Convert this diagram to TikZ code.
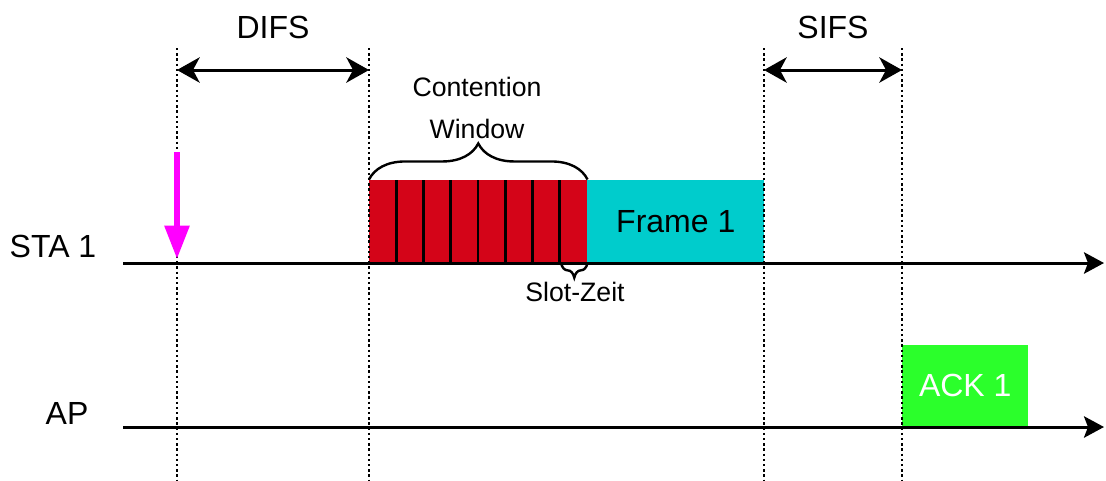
\documentclass[tikz,border=0pt]{standalone}
\usepackage{fontspec}
\usepackage{xcolor}
\setmainfont{Liberation Sans}
\usetikzlibrary{arrows.meta,decorations.pathreplacing,positioning}

\definecolor{slotred}{RGB}{212,4,24}
\definecolor{framecyan}{RGB}{0,204,204}
\definecolor{ackgreen}{RGB}{43,255,43}
\definecolor{eventpink}{RGB}{255,0,255}

\tikzset{
	big/.style={inner sep=0pt,font=\fontsize{24}{28}\selectfont},
	small/.style={inner sep=0pt,font=\fontsize{20}{31}\selectfont},
	block/.style={inner sep=0pt,anchor=south west,big},
	timeline/.style={line width=2.25pt,-{Stealth[length=15pt,width=16pt,inset=3pt]}},
	span/.style={line width=2.25pt,{Stealth[length=17pt,width=19pt,inset=5pt]}-{Stealth[length=17pt,width=19pt,inset=5pt]}},
	guide/.style={line width=2pt,dash pattern=on 1.8pt off 2.1pt},
	curly/.style={line width=1.8pt,decorate,decoration={brace,#1}}
}

\begin{document}
\begin{tikzpicture}[x=0.75pt,y=-0.75pt]
			\useasboundingbox (0,0) rectangle (1106,480);

			% blocks on the STA 1 line
			\node[block,fill=slotred,minimum width=218*0.75pt,minimum height=83*0.75pt] (cw) at (369,263) {};
			\node[block,fill=framecyan,minimum width=177*0.75pt,minimum height=83*0.75pt] (frame) at (587,263) {};
			\node[big] at (frame.center) {Frame 1};
			\foreach \i in {1,...,7}
				\draw[line width=2.2pt] ({369+27.25*\i},180) -- ({369+27.25*\i},263);

			% block on the AP line
			\node[block,fill=ackgreen,minimum width=126*0.75pt,minimum height=82*0.75pt] (ack) at (902,427) {};
			\node[big,text=white] at (ack.center) {ACK 1};

			% station names and time axes
			\node[big] (sta) at (53,246) {STA 1};
			\node[big] (ap) at (67,413) {AP};
			\coordinate (sta-start) at (123,263);
			\coordinate (sta-end) at (1104,263);
			\coordinate (ap-start) at (123,427);
			\coordinate (ap-end) at (1104,427);
			\draw[timeline] (sta-start) -- (sta-end);
			\draw[timeline] (ap-start) -- (ap-end);

			% braces
			\draw[curly={amplitude=27pt}] (cw.north west) -- (cw.north east);
			\node[small,align=center] (cwlabel) at (477,108) {Contention\\Window};
			\coordinate (slot-a) at (561,263);
			\draw[curly={amplitude=11pt,mirror}] (slot-a) -- (cw.south east);
			\node[small] (slotlabel) at (575,292) {Slot-Zeit};

			% dotted guides
			\foreach \x/\n in {177/a,369/b,764/c,902/d}{
				\coordinate (top-\n) at (\x,48);
				\coordinate (bot-\n) at (\x,480);
				\draw[guide] (top-\n) -- (bot-\n);
			}

			% interframe spaces
			\coordinate (difs-l) at (177,70);
			\coordinate (difs-r) at (369,70);
			\coordinate (sifs-l) at (764,70);
			\coordinate (sifs-r) at (902,70);
			\draw[span] (difs-l) -- (difs-r);
			\draw[span] (sifs-l) -- (sifs-r);
			\node[big] (difs) at (273,27) {DIFS};
			\node[big] (sifs) at (833,27) {SIFS};

			% packet arrives
			\coordinate (ev-top) at (177,152);
			\coordinate (ev-bot) at (177,259);
			\draw[eventpink,line width=4.3pt,-{Triangle[length=25pt,width=18pt]}] (ev-top) -- (ev-bot);
\end{tikzpicture}
\end{document}
